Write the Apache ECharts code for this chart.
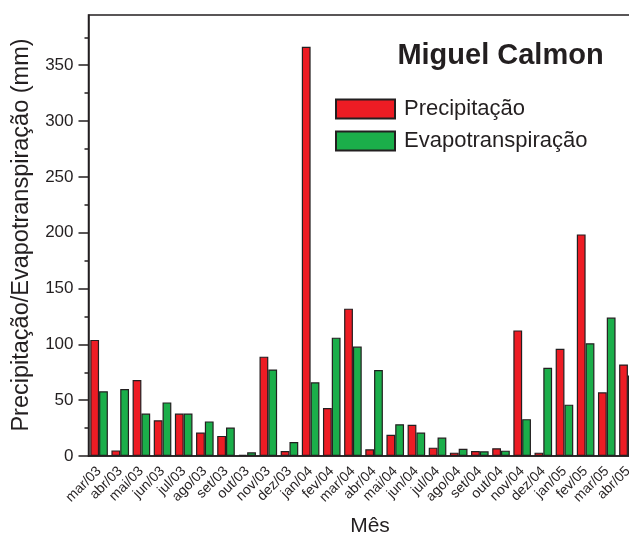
<!DOCTYPE html>
<html>
<head>
<meta charset="utf-8">
<script src="https://cdn.jsdelivr.net/npm/echarts@6/dist/echarts.min.js"></script>
<style>
  html, body { margin: 0; padding: 0; background: #fff; overflow: hidden; }
  #chart { width: 629px; height: 536px; }
</style>
</head>
<body>
<div id="chart"></div>
<script>
// Monthly series, Miguel Calmon station (mm)
const months = ['mar/03','abr/03','mai/03','jun/03','jul/03','ago/03','set/03','out/03','nov/03','dez/03',
  'jan/04','fev/04','mar/04','abr/04','mai/04','jun/04','jul/04','ago/04','set/04','out/04','nov/04','dez/04',
  'jan/05','fev/05','mar/05','abr/05'];
const precipitacao = [104, 5, 68, 32, 38, 21, 18, 1, 89, 4.5,
  366.5, 43, 132, 6, 19, 28, 7.5, 3, 4.5, 7, 112.5, 3,
  96, 198.5, 57, 82];
const evapotranspiracao = [58, 60, 38, 48, 38, 31, 25.5, 3.3, 77.5, 12.5,
  66, 106, 98, 77, 28.5, 21, 16.5, 6.5, 4.2, 4.8, 33, 79,
  46, 101, 124, 72];
const yMajorTicks = [0, 50, 100, 150, 200, 250, 300, 350];
const yMinorTicks = [25, 75, 125, 175, 225, 275, 325, 375];

const INK = '#231F20';
const RED = '#ED1C24';
const GREEN = '#1BAE4A';
const FONT = 'Liberation Sans, Arial, sans-serif';

const chart = echarts.init(document.getElementById('chart'), null, { renderer: 'canvas' });

// plot box runs a little past the right edge of the canvas
const gridBox = { left: 88.5, top: 15, width: 550, bottom: 80, outerBoundsMode: 'none', containLabel: false };

chart.setOption({
  animation: false,
  backgroundColor: '#fff',
  textStyle: { fontFamily: FONT },
  grid: [
    Object.assign({ show: true, borderColor: INK, borderWidth: 1.5, backgroundColor: 'transparent' }, gridBox),
    Object.assign({ show: false }, gridBox)
  ],
  legend: {
    left: 330, top: 93,
    orient: 'vertical',
    itemWidth: 59, itemHeight: 19,
    itemGap: 10,
    icon: 'rect',
    textStyle: { fontFamily: FONT, fontSize: 22, color: INK, padding: [0, 0, 0, 4] },
    data: ['Precipitação', 'Evapotranspiração']
  },
  xAxis: [
    {
      type: 'category', gridIndex: 0, data: months,
      axisLine: { lineStyle: { color: INK, width: 1.5 } },
      axisTick: { alignWithLabel: true, length: 9, lineStyle: { color: INK, width: 1.5 } },
      axisLabel: { rotate: 45, margin: 13, fontSize: 14, color: INK, fontFamily: FONT, interval: 0 }
    },
    {
      type: 'category', gridIndex: 1, data: months,
      axisLine: { show: false },
      axisTick: { alignWithLabel: false, length: 4, lineStyle: { color: INK, width: 1.5 } },
      axisLabel: { show: false }
    }
  ],
  yAxis: [
    {
      type: 'value', gridIndex: 0, min: 0, max: 395,
      splitLine: { show: false },
      axisLine: { show: true, lineStyle: { color: INK, width: 1.5 } },
      axisTick: { show: true, length: 10, customValues: yMajorTicks, lineStyle: { color: INK, width: 1.5 } },
      axisLabel: { customValues: yMajorTicks, fontSize: 17, color: INK, fontFamily: FONT, margin: 15 }
    },
    {
      type: 'value', gridIndex: 1, min: 0, max: 395,
      splitLine: { show: false },
      axisLine: { show: false },
      axisTick: { show: true, length: 4, customValues: yMinorTicks, lineStyle: { color: INK, width: 1.5 } },
      axisLabel: { show: false }
    }
  ],
  series: [
    {
      name: 'Precipitação', type: 'bar', xAxisIndex: 0, yAxisIndex: 0,
      data: precipitacao, barWidth: 8.8, barGap: '0%',
      itemStyle: { color: RED, borderColor: INK, borderWidth: 1.2 }
    },
    {
      name: 'Evapotranspiração', type: 'bar', xAxisIndex: 0, yAxisIndex: 0,
      data: evapotranspiracao, barWidth: 8.8, barGap: '0%',
      itemStyle: { color: GREEN, borderColor: INK, borderWidth: 1.2 }
    }
  ],
  graphic: [
    {
      type: 'text', x: 500.5, y: 56,
      style: { text: 'Miguel Calmon', fontFamily: FONT, fontSize: 29, fontWeight: 'bold', fill: INK,
        align: 'center', verticalAlign: 'middle' }
    },
    {
      type: 'text', x: 370, y: 526,
      style: { text: 'Mês', fontFamily: FONT, fontSize: 21, fill: INK, align: 'center', verticalAlign: 'middle' }
    },
    {
      type: 'text', x: 22, y: 235, rotation: Math.PI / 2,
      style: { text: 'Precipitação/Evapotranspiração (mm)', fontFamily: FONT, fontSize: 23.5, fill: INK,
        align: 'center', verticalAlign: 'middle' }
    }
  ]
});
</script>
</body>
</html>
